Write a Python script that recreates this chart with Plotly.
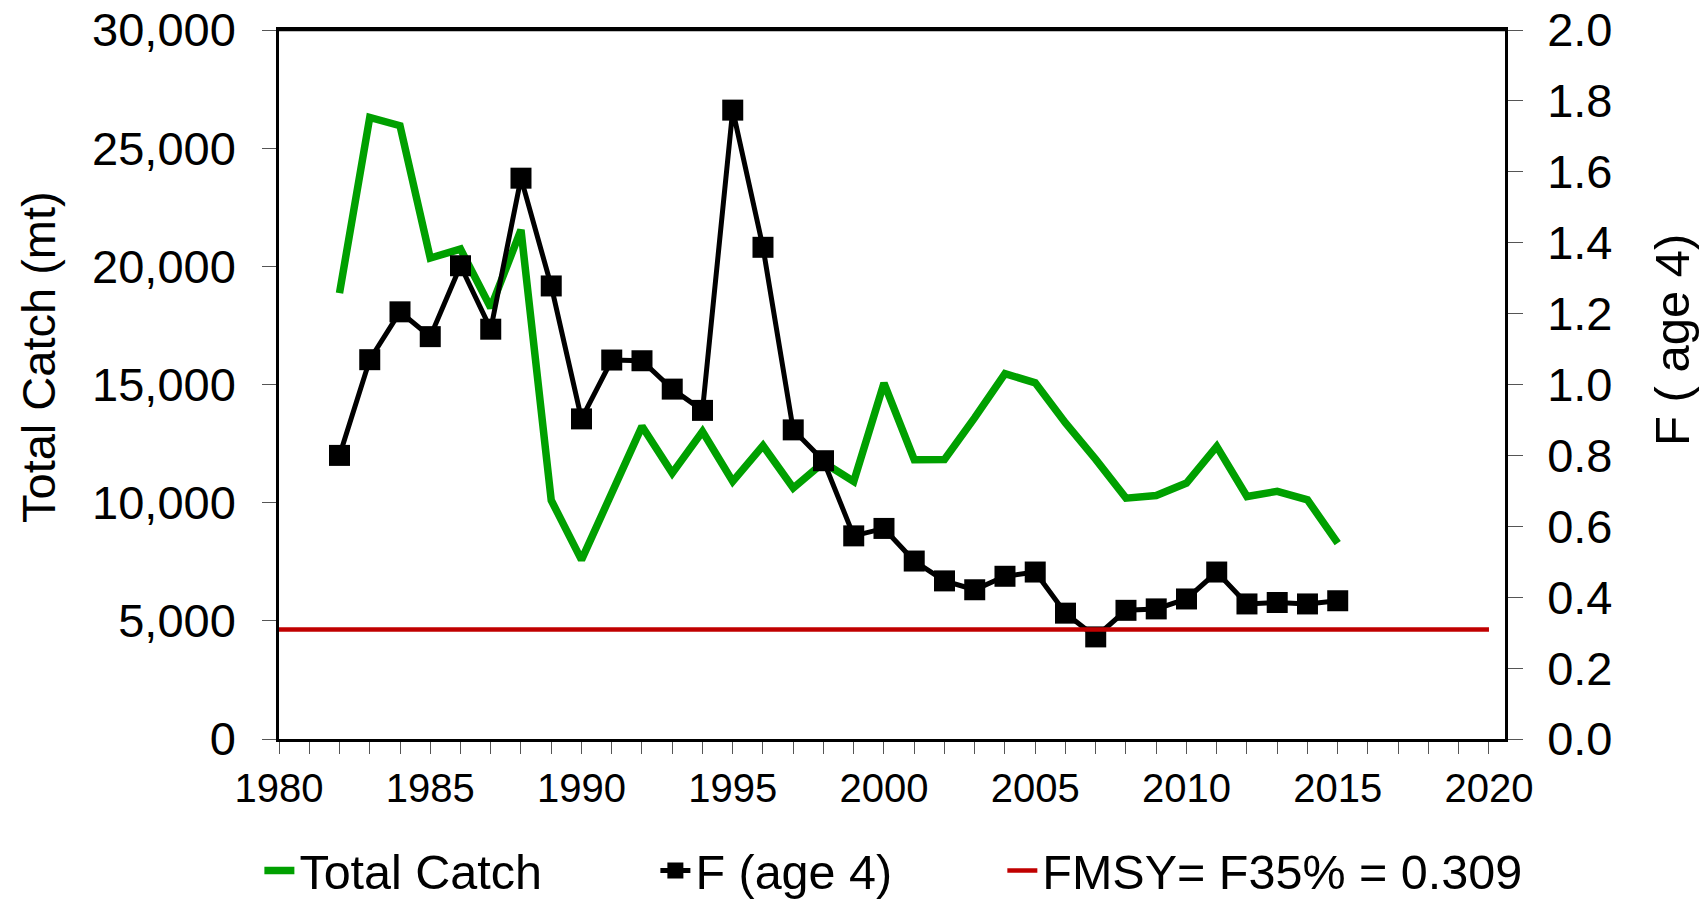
import plotly.graph_objects as go

years = list(range(1982, 2016))
total_catch = [18870, 26300, 25950, 20350, 20730, 18250, 21540, 10100, 7580, 10400,
               13230, 11250, 13010, 10900, 12410, 10620, 11700, 10900, 15060, 11820,
               11830, 13600, 15460, 15070, 13370, 11830, 10190, 10300, 10830, 12380,
               10260, 10480, 10120, 8290]
f_age4 = [0.80, 1.07, 1.205, 1.135, 1.335, 1.156, 1.582, 1.278, 0.903, 1.069,
          1.067, 0.987, 0.927, 1.774, 1.387, 0.872, 0.785, 0.573, 0.594, 0.502,
          0.446, 0.421, 0.459, 0.471, 0.355, 0.288, 0.363, 0.367, 0.395, 0.471,
          0.381, 0.385, 0.381, 0.390]
fmsy_years = [1980, 2020]
fmsy = [0.309, 0.309]

FONT = "Liberation Sans, Arial, sans-serif"

W, H = 1708, 901
L, R, T, B = 279, 203, 30, 162
PW = W - L - R
PH = H - T - B

fig = go.Figure()
fig.add_trace(go.Scatter(
    x=years, y=total_catch, name="Total Catch", mode="lines",
    line=dict(color="#00A000", width=7.5), yaxis="y", legend="legend",
))
fig.add_trace(go.Scatter(
    x=years, y=f_age4, name="F (age 4)", mode="lines+markers",
    line=dict(color="black", width=5),
    marker=dict(symbol="square", size=21, color="black"),
    yaxis="y2", legend="legend2",
))
fig.add_trace(go.Scatter(
    x=fmsy_years, y=fmsy, name="FMSY= F35% = 0.309", mode="lines",
    line=dict(color="#C00000", width=4.5), yaxis="y2", legend="legend3",
))

leg = dict(orientation="h", yanchor="middle", y=-(871 - 739) / PH, xanchor="left",
           font=dict(family=FONT, size=48.5, color="black"),
           bgcolor="rgba(0,0,0,0)", itemwidth=30)

fig.update_layout(
    width=W, height=H,
    margin=dict(l=L, r=R, t=T, b=B, autoexpand=False),
    plot_bgcolor="white", paper_bgcolor="white",
    font=dict(family=FONT, color="black"),
    showlegend=True,
    legend=dict(leg, x=-0.016),
    legend2=dict(leg, x=0.307),
    legend3=dict(leg, x=0.590),
    xaxis=dict(
        range=[1980, 2020.53], tickmode="linear", tick0=1980, dtick=5,
        ticks="outside", ticklen=12, tickcolor="#555", tickwidth=1,
        minor=dict(dtick=1, ticks="outside", ticklen=12, tickcolor="#555", tickwidth=1),
        showline=True, linecolor="black", linewidth=2.5, mirror=True,
        showgrid=False, zeroline=False, automargin=False,
        tickfont=dict(family=FONT, size=40, color="black"),
        ticklabelstandoff=0, ticklabeloverflow="allow",
    ),
    yaxis=dict(
        range=[0, 30000], tickmode="linear", tick0=0, dtick=5000, tickformat=",d",
        ticks="outside", ticklen=14, tickcolor="#555", tickwidth=1,
        showline=True, linecolor="black", linewidth=2.5,
        showgrid=False, zeroline=False, automargin=False,
        tickfont=dict(family=FONT, size=47, color="black"),
        ticklabelstandoff=17, ticklabeloverflow="allow",
    ),
    yaxis2=dict(
        range=[0, 2.0], tickmode="linear", tick0=0, dtick=0.2, tickformat=".1f",
        overlaying="y", side="right",
        ticks="outside", ticklen=15, tickcolor="#555", tickwidth=1,
        showline=True, linecolor="black", linewidth=2.5,
        showgrid=False, zeroline=False, automargin=False,
        tickfont=dict(family=FONT, size=47, color="black"),
        ticklabelstandoff=15, ticklabeloverflow="allow",
    ),
    shapes=[
        dict(type="line", xref="paper", yref="paper", x0=0, x1=1, y0=1, y1=1,
             line=dict(color="black", width=2.5)),
    ],
    annotations=[
        dict(text="Total Catch (mt)", textangle=-90, xref="paper", yref="paper",
             x=(39 - 279) / PW, y=(739 - 357) / PH, showarrow=False,
             xanchor="center", yanchor="middle",
             font=dict(family=FONT, size=47, color="black")),
        dict(text="F ( age 4)", textangle=-90, xref="paper", yref="paper",
             x=(1672 - 279) / PW, y=(739 - 340) / PH, showarrow=False,
             xanchor="center", yanchor="middle",
             font=dict(family=FONT, size=49, color="black")),
    ],
)

fig.write_html("out.html", config={"displayModeBar": False},
               post_script="document.body.style.margin='0';document.body.style.overflow='hidden';")
